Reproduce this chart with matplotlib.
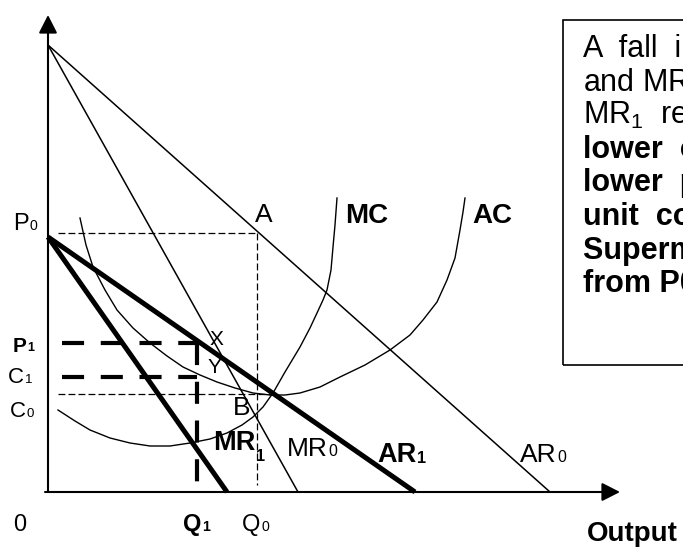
import matplotlib
matplotlib.use('Agg')
import matplotlib.pyplot as plt
from matplotlib.patches import Rectangle

plt.rcParams['font.family'] = ['Liberation Sans', 'DejaVu Sans']
plt.rcParams['mathtext.fontset'] = 'custom'
plt.rcParams['mathtext.rm'] = 'Liberation Sans'
plt.rcParams['mathtext.default'] = 'regular'

# demand / marginal revenue lines (output, price)
ar0_q = [0, 50.2]
ar0_p = [44.7, 0]
mr0_q = [0, 25.0]
mr0_p = [44.7, 0]
ar1_q = [0, 36.7]
ar1_p = [25.5, 0]
mr1_q = [0, 17.9]
mr1_p = [25.5, 0]

# cost curves
mc_q = [1.0, 2.7, 4.2, 6.2, 8.2, 10.2, 12.2, 14.2, 16.2, 17.9, 19.4, 20.5, 21.5,
        22.5, 23.7, 25.2, 26.2, 26.9, 27.5, 27.9, 28.3, 28.5, 28.7, 28.9]
mc_p = [8.2, 7.1, 6.2, 5.4, 4.9, 4.6, 4.6, 4.9, 5.3, 5.9, 6.7, 7.5, 8.5,
        9.9, 12.0, 14.5, 16.4, 17.9, 19.2, 20.2, 22.2, 24.5, 26.7, 29.4]
ac_q = [3.2, 3.8, 4.5, 5.7, 6.9, 8.5, 10.2, 11.9, 13.5, 15.2, 16.9, 18.7, 20.5, 22.2,
        23.7, 25.2, 27.2, 29.2, 31.7, 34.2, 36.2, 37.5, 38.9, 39.9, 40.7, 41.2, 41.5, 41.7]
ac_p = [27.4, 24.7, 22.5, 20.2, 18.2, 16.4, 14.9, 13.6, 12.5, 11.7, 11.0, 10.4, 9.9, 9.7,
        9.7, 9.9, 10.5, 11.5, 12.7, 14.2, 15.7, 17.2, 19.0, 21.2, 23.4, 26.2, 28.0, 29.4]

# equilibrium levels
p0, q0 = 25.9, 20.9
p1, q1 = 14.9, 14.9
c1 = 11.5
c0, q_b = 9.8, 22.5

box_lines = [
    ("A  fall  in  demand  shifts  AR", 'normal'),
    ("and MR to the left, giving AR$_1$ and", 'normal'),
    ("MR$_1$  results  in", 'normal'),
    ("lower  output  Q1,", 'bold'),
    ("lower  price  P1  and  higher", 'bold'),
    ("unit  costs  C1.  The", 'bold'),
    ("Supermarket's profit falls", 'bold'),
    ("from P0ABC0 to P1XYC1", 'bold'),
]

fig = plt.figure(figsize=(6.83, 5.48), dpi=100)
ax = fig.add_axes([0, 0, 1, 1])
ax.set_xlim(-4.8, 63.5)
ax.set_ylim(-5.6, 49.2)
ax.axis('off')

# axes with arrows
arrow = dict(arrowstyle='-|>,head_length=0.55,head_width=0.28', lw=1.5,
             color='black', mutation_scale=20, shrinkA=0, shrinkB=0)
ax.annotate('', xy=(0, 47.7), xytext=(0, 0), arrowprops=arrow)
ax.annotate('', xy=(57.2, 0), xytext=(-0.3, 0), arrowprops=arrow)

# thin dashed guides
thin = dict(color='black', lw=0.9, dashes=(5.5, 2.5))
ax.plot([1.0, q0], [p0, p0], **thin)
ax.plot([q0, q0], [p0, 0.7], **thin)
ax.plot([1.0, q_b], [c0, c0], **thin)

# curves
ax.plot(ar0_q, ar0_p, color='black', lw=1.1)
ax.plot(mr0_q, mr0_p, color='black', lw=1.1)
ax.plot(mc_q, mc_p, color='black', lw=1.0)
ax.plot(ac_q, ac_p, color='black', lw=1.0)
ax.plot(ar1_q, ar1_p, color='black', lw=3.6, solid_capstyle='butt', zorder=4)
ax.plot(mr1_q, mr1_p, color='black', lw=3.6, solid_capstyle='butt', zorder=4)

# thick dashed guides
thick = dict(color='black', lw=3.0, dashes=(5.3, 4.0), dash_capstyle='butt', zorder=3)
ax.plot([1.4, q1], [p1, p1], **thick)
ax.plot([1.4, q1], [c1, c1], **thick)
ax.plot([q1, q1], [p1, -0.6], **thick)


def label(x, y, main, sub='', bold=False, size=18, dy=1.5):
    w = 'bold' if bold else 'normal'
    t = ax.text(x, y, main, fontsize=size, fontweight=w, ha='left', va='baseline')
    if sub:
        ax.annotate(sub, xy=(1, 0), xycoords=t, xytext=(0.5, dy),
                    textcoords='offset points', fontsize=size * 0.6,
                    fontweight=w, ha='left', va='bottom')


label(-3.5, 26.2, 'P', '0', size=17)
label(-3.5, 14.0, 'P', '1', bold=True, size=15)
label(-4.0, 10.9, 'C', '1', size=16)
label(-3.8, 7.5, 'C', '0', size=16)
label(-3.5, -3.9, '0', size=17)
label(13.5, -3.9, 'Q', '1', bold=True, size=17)
label(19.4, -3.9, 'Q', '0', size=17)
label(20.7, 27.0, 'A', size=19)
label(29.7, 26.9, 'MC', bold=True, size=20)
label(42.4, 26.9, 'AC', bold=True, size=20)
label(16.2, 14.7, 'X', size=15)
label(16.0, 11.9, 'Y', size=15)
label(18.5, 7.7, 'B', size=19)
label(16.5, 4.2, 'MR', '1', bold=True, size=19.5, dy=-6)
label(23.9, 3.6, 'MR', '0', size=19)
label(32.9, 3.0, 'AR', '1', bold=True, size=19.5)
label(47.2, 3.0, 'AR', '0', size=19)
label(53.9, -4.9, 'Output', bold=True, size=20)

# explanation box, runs off the right edge
ax.add_patch(Rectangle((51.5, 12.7), 25, 34.5, fill=False, lw=1.2, ec='black'))
y = 43.5
for line, w in box_lines:
    ax.text(53.5, y, line, fontsize=22, fontweight=w, ha='left', va='baseline')
    y -= 3.36

fig.savefig('out.png', dpi=100)
